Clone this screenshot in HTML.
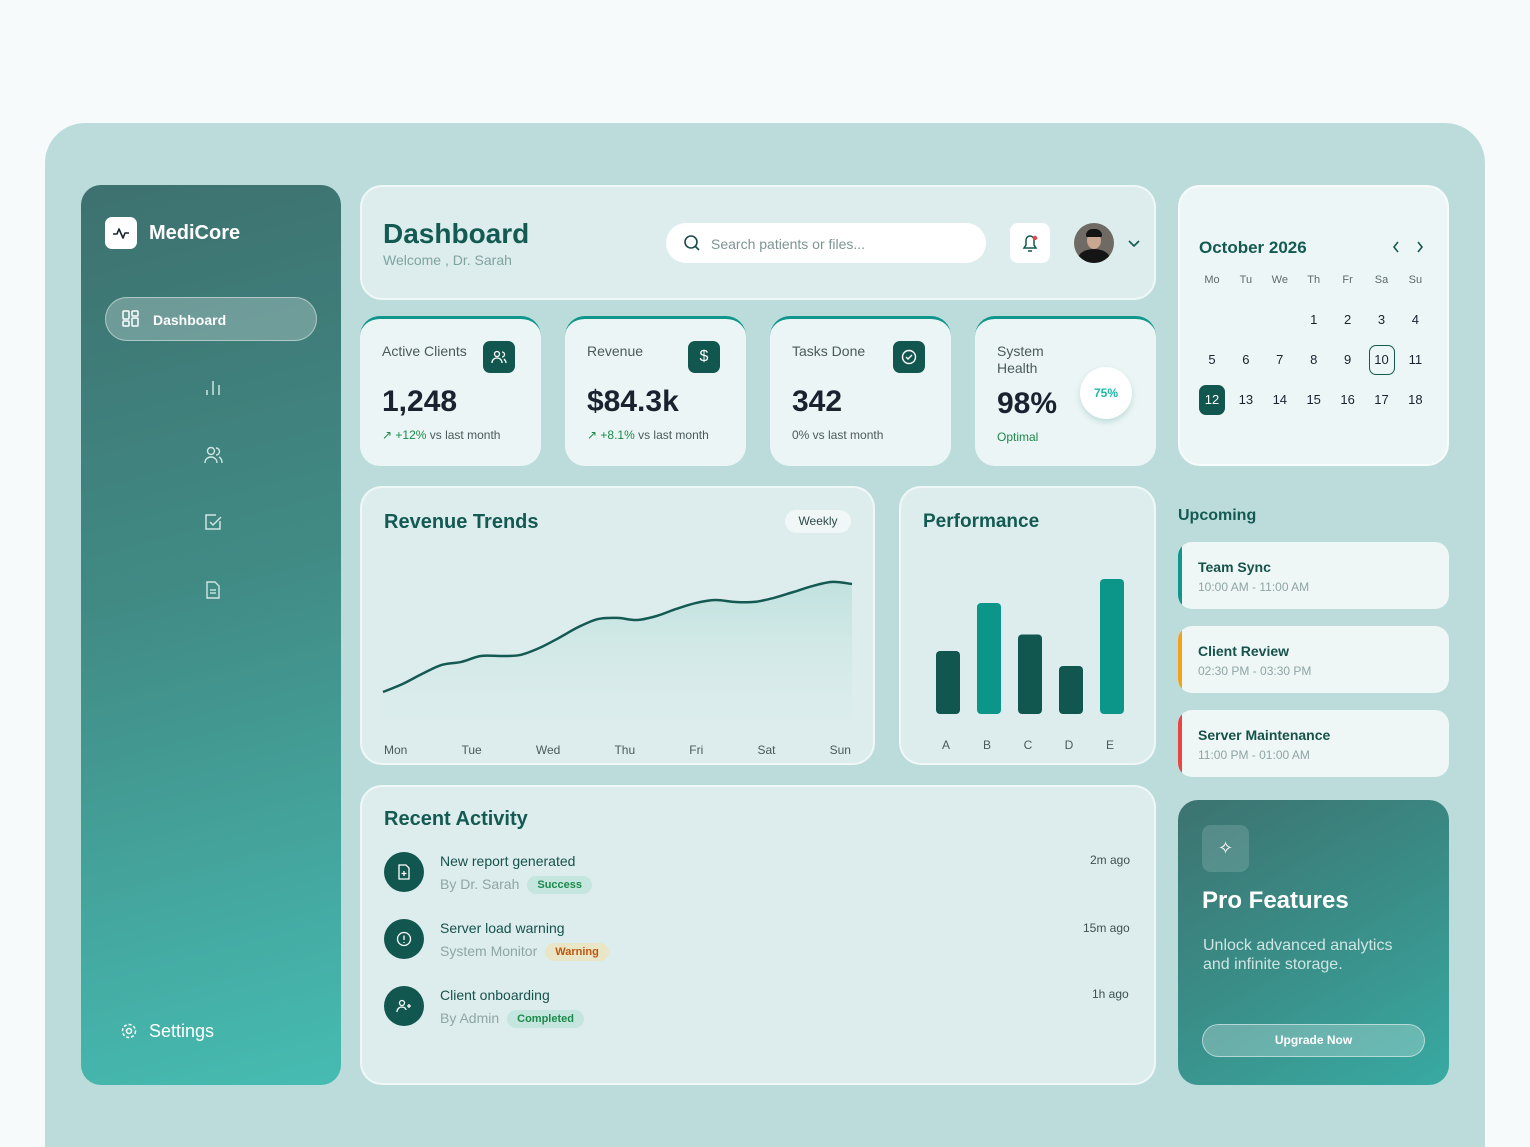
<!DOCTYPE html>
<html><head><meta charset="utf-8">
<style>
*{box-sizing:border-box;margin:0;padding:0}
html,body{width:1530px;height:1147px;overflow:hidden}
body{background:#f6fafb;font-family:"Liberation Sans",sans-serif;position:relative;color:#16524c}
.a{position:absolute}
.card{position:absolute;background:rgba(232,243,243,0.75);border:2px solid rgba(255,255,255,0.55);border-radius:22px}
.stat{position:absolute;top:316px;width:181px;height:150px;background:#ebf5f5;border-radius:20px;border-top:3px solid #10968a;overflow:hidden}
.stat .lbl{position:absolute;left:22px;top:24px;font-size:14px;color:#4a5a5a}
.stat .ico{position:absolute;right:26px;top:22px;width:32px;height:32px;border-radius:7px;background:#125650;color:#fff;display:flex;align-items:center;justify-content:center;font-size:16px}
.stat .val{position:absolute;left:22px;top:66px;font-size:30px;font-weight:bold;color:#1a2230}
.stat .sub{position:absolute;left:22px;top:109px;font-size:12px;color:#4a5a5a}
.g{color:#1c8a4a}
.ev{position:absolute;left:1178px;width:271px;height:67px;background:#eef6f6;border-radius:14px;overflow:hidden}
.ev .bar{position:absolute;left:0;top:0;bottom:0;width:4px}
.ev .t{position:absolute;left:20px;top:17px;font-weight:bold;font-size:14px;color:#16524c}
.ev .s{position:absolute;left:20px;top:38px;font-size:12px;color:#8fa6a4}
.act-ico{position:absolute;left:384px;width:40px;height:40px;border-radius:50%;background:#125650;display:flex;align-items:center;justify-content:center}
.act-t{position:absolute;left:440px;font-size:14px;color:#16524c}
.act-s{position:absolute;left:440px;font-size:14px;color:#8fa6a4}
.pill{display:inline-block;margin-left:8px;padding:3px 10px;border-radius:11px;font-size:11px;font-weight:bold;vertical-align:1px}
.time{position:absolute;font-size:12px;color:#3e5250}
.cal{position:absolute;font-size:13px;color:#1a2230;width:26px;text-align:center}
.calh{position:absolute;font-size:11px;color:#5d6b6b;width:26px;text-align:center;top:274px}
.nav{position:absolute;left:203px;width:20px;height:20px}
</style></head><body>
<div class="a" style="left:45px;top:123px;width:1440px;height:1024px;background:#bcdcdc;border-radius:40px 40px 0 0"></div>

<!-- sidebar -->
<div class="a" style="left:81px;top:185px;width:260px;height:900px;border-radius:20px;background:linear-gradient(165deg,#3d716f 0%,#418b85 45%,#46bcb2 100%)"></div>
<div class="a" style="left:105px;top:217px;width:32px;height:32px;background:#fff;border-radius:7px">
<svg width="32" height="32"><path d="M8 17h4l2-5 4 9 2-5h4" fill="none" stroke="#1a2230" stroke-width="1.6" stroke-linejoin="round"/></svg></div>
<div class="a" style="left:149px;top:222px;font-size:20px;font-weight:bold;color:#fff">MediCore</div>
<div class="a" style="left:105px;top:297px;width:212px;height:44px;border-radius:22px;background:rgba(255,255,255,0.25);border:1px solid rgba(255,255,255,0.45)">
<svg class="a" style="left:16px;top:12px" width="18" height="18"><g fill="none" stroke="#fff" stroke-width="1.5"><rect x="1" y="1" width="6" height="8" rx="1"/><rect x="10" y="1" width="6" height="5" rx="1"/><rect x="1" y="11" width="6" height="5" rx="1"/><rect x="10" y="8" width="6" height="8" rx="1"/></g></svg>
<span class="a" style="left:47px;top:14px;font-size:14px;font-weight:bold;color:#fff">Dashboard</span></div>
<svg class="nav" style="top:377px" width="20" height="20"><g stroke="#cfe6e3" stroke-width="1.5"><line x1="4" y1="13" x2="4" y2="18"/><line x1="10" y1="4" x2="10" y2="18"/><line x1="16" y1="8" x2="16" y2="18"/></g></svg>
<svg class="nav" style="top:445px" width="20" height="20"><g fill="none" stroke="#cfe6e3" stroke-width="1.4"><circle cx="8" cy="6" r="3.5"/><path d="M2 18c0-4 3-6 6-6s6 2 6 6"/><path d="M13 3a3.5 3.5 0 0 1 0 7M16 12c2 1 3 3 3 6"/></g></svg>
<svg class="nav" style="top:512px" width="20" height="20"><g fill="none" stroke="#cfe6e3" stroke-width="1.5"><path d="M17 9v8H3V3h10"/><path d="M7 10l3 3 8-8"/></g></svg>
<svg class="nav" style="top:580px" width="20" height="20"><g fill="none" stroke="#cfe6e3" stroke-width="1.4"><path d="M4 2h8l4 4v12H4z"/><line x1="7" y1="10" x2="13" y2="10"/><line x1="7" y1="13" x2="13" y2="13"/></g></svg>
<div class="a" style="left:120px;top:1021px;color:#fff;font-size:18px">
<svg width="18" height="18" style="vertical-align:-3px;margin-right:11px"><g fill="none" stroke="#fff" stroke-width="1.5"><circle cx="9" cy="9" r="2.5"/><circle cx="9" cy="9" r="6.5" stroke-dasharray="3 2"/></g></svg>Settings</div>

<!-- header -->
<div class="card" style="left:360px;top:185px;width:796px;height:115px"></div>
<div class="a" style="left:383px;top:218px;font-size:28px;font-weight:bold;color:#135a52">Dashboard</div>
<div class="a" style="left:383px;top:252px;font-size:14px;color:#7fa3a0">Welcome , Dr. Sarah</div>
<div class="a" style="left:666px;top:223px;width:320px;height:40px;background:#fff;border-radius:20px">
<svg class="a" style="left:17px;top:11px" width="18" height="18"><g fill="none" stroke="#1a4a46" stroke-width="1.6"><circle cx="8" cy="8" r="6"/><line x1="12.5" y1="12.5" x2="16" y2="16"/></g></svg>
<span class="a" style="left:45px;top:13px;font-size:14px;color:#7c9594">Search patients or files...</span></div>
<div class="a" style="left:1010px;top:223px;width:40px;height:40px;background:#fff;border-radius:8px">
<svg width="40" height="40"><path d="M14 25h12l-2-3v-5a4 4 0 0 0-8 0v5z M18 28h4" fill="none" stroke="#125650" stroke-width="1.5"/><circle cx="25" cy="15" r="2.2" fill="#e84545"/></svg></div>
<div class="a" style="left:1074px;top:223px;width:40px;height:40px;border-radius:50%;overflow:hidden;background:#6f6b64">
<div class="a" style="left:4px;top:26px;width:32px;height:20px;border-radius:50% 50% 0 0;background:#151515"></div>
<div class="a" style="left:13px;top:9px;width:14px;height:17px;border-radius:50%;background:#c9a690"></div>
<div class="a" style="left:12px;top:6px;width:16px;height:8px;border-radius:8px 8px 2px 2px;background:#141414"></div></div>
<div class="a" style="left:1128px;top:236px"><svg width="12" height="10"><path d="M1 2l5 5 5-5" fill="none" stroke="#125650" stroke-width="1.6"/></svg></div>

<!-- stats -->
<div class="stat" style="left:360px"><div class="lbl">Active Clients</div><div class="ico"><svg width="16" height="16"><g fill="none" stroke="#fff" stroke-width="1.3"><circle cx="6" cy="5" r="2.5"/><path d="M1 14c0-3 2-5 5-5s5 2 5 5M11 3a2.5 2.5 0 0 1 0 5M13 10c1 1 2 2 2 4"/></g></svg></div><div class="val">1,248</div><div class="sub"><span class="g">↗ +12%</span> vs last month</div></div>
<div class="stat" style="left:565px"><div class="lbl">Revenue</div><div class="ico">$</div><div class="val">$84.3k</div><div class="sub"><span class="g">↗ +8.1%</span> vs last month</div></div>
<div class="stat" style="left:770px"><div class="lbl">Tasks Done</div><div class="ico"><svg width="16" height="16"><g fill="none" stroke="#fff" stroke-width="1.4"><circle cx="8" cy="8" r="6.5"/><path d="M5 8l2 2 4-4"/></g></svg></div><div class="val">342</div><div class="sub">0% vs last month</div></div>
<div class="stat" style="left:975px"><div class="lbl" style="line-height:17px">System<br>Health</div><div class="val" style="top:68px">98%</div><div class="sub g" style="top:111px;color:#1c8a4a">Optimal</div>
<div class="a" style="left:105px;top:48px;width:52px;height:52px;border-radius:50%;background:#fff;box-shadow:0 3px 6px rgba(60,150,140,0.25);display:flex;align-items:center;justify-content:center;font-size:12px;font-weight:bold;color:#1cb8a6">75%</div></div>

<!-- revenue chart -->
<div class="card" style="left:360px;top:486px;width:515px;height:279px"></div>
<div class="a" style="left:384px;top:511px;font-size:20px;font-weight:bold;color:#135a52">Revenue Trends</div>
<div class="a" style="left:785px;top:510px;width:66px;height:23px;border-radius:12px;background:#f1f7f7;font-size:12px;color:#2d4a48;text-align:center;line-height:23px">Weekly</div>
<svg class="a" id="lineSvg" style="left:360px;top:486px" width="515" height="279">
<defs><linearGradient id="fillG" x1="0" y1="0" x2="0" y2="1"><stop offset="0" stop-color="#a9d9d3" stop-opacity="0.55"/><stop offset="1" stop-color="#cfe8e6" stop-opacity="0.1"/></linearGradient></defs></svg>
<div class="a" id="xLabels" style="left:384px;top:743px;width:467px;display:flex;justify-content:space-between;font-size:12px;color:#4a5a5a"></div>

<!-- performance -->
<div class="card" style="left:899px;top:486px;width:257px;height:279px"></div>
<div class="a" style="left:923px;top:511px;font-size:19px;font-weight:bold;color:#135a52">Performance</div>
<svg class="a" id="barSvg" style="left:899px;top:486px" width="257" height="279"></svg>

<!-- activity -->
<div class="card" style="left:360px;top:785px;width:796px;height:300px"></div>
<div class="a" style="left:384px;top:808px;font-size:20px;font-weight:bold;color:#135a52">Recent Activity</div>

<div class="act-ico" style="top:852px"><svg width="16" height="16"><g fill="none" stroke="#fff" stroke-width="1.3"><path d="M3 1h7l3 3v11H3z"/><path d="M8 7v5M5.5 9.5h5"/></g></svg></div>
<div class="act-t" style="top:853px">New report generated</div>
<div class="act-s" style="top:876px">By Dr. Sarah<span class="pill" style="background:#c4e6df;color:#1c8a4a">Success</span></div>
<div class="time" style="top:853px;left:1090px">2m ago</div>

<div class="act-ico" style="top:919px"><svg width="16" height="16"><g fill="none" stroke="#fff" stroke-width="1.3"><circle cx="8" cy="8" r="6.5"/><path d="M8 4.5v4.5M8 11v1"/></g></svg></div>
<div class="act-t" style="top:920px">Server load warning</div>
<div class="act-s" style="top:943px">System Monitor<span class="pill" style="background:#e9e6c8;color:#c0560e">Warning</span></div>
<div class="time" style="top:921px;left:1083px">15m ago</div>

<div class="act-ico" style="top:986px"><svg width="16" height="16"><g fill="none" stroke="#fff" stroke-width="1.3"><circle cx="6" cy="5" r="2.5"/><path d="M1 14c0-3 2-5 5-5s4 2 4 3M13 6v4M11 8h4"/></g></svg></div>
<div class="act-t" style="top:987px">Client onboarding</div>
<div class="act-s" style="top:1010px">By Admin<span class="pill" style="background:#c4e6df;color:#1c8a4a">Completed</span></div>
<div class="time" style="top:987px;left:1092px">1h ago</div>

<!-- calendar -->
<div class="card" style="left:1178px;top:185px;width:271px;height:281px;background:#edf6f6"></div>
<div class="a" style="left:1199px;top:238px;font-size:17px;font-weight:bold;color:#135a52">October 2026</div>
<div class="a" style="left:1391px;top:240px"><svg width="10" height="14"><path d="M7 2L3 7l4 5" fill="none" stroke="#135a52" stroke-width="1.6"/></svg></div>
<div class="a" style="left:1415px;top:240px"><svg width="10" height="14"><path d="M3 2l4 5-4 5" fill="none" stroke="#135a52" stroke-width="1.6"/></svg></div>
<div id="calGrid"></div>

<!-- upcoming -->
<div class="a" style="left:1178px;top:507px;font-size:16px;font-weight:bold;color:#135a52">Upcoming</div>
<div class="ev" style="top:542px"><div class="bar" style="background:#12968a"></div><div class="t">Team Sync</div><div class="s">10:00 AM - 11:00 AM</div></div>
<div class="ev" style="top:626px"><div class="bar" style="background:#f2a21a"></div><div class="t">Client Review</div><div class="s">02:30 PM - 03:30 PM</div></div>
<div class="ev" style="top:710px"><div class="bar" style="background:#e84545"></div><div class="t">Server Maintenance</div><div class="s">11:00 PM - 01:00 AM</div></div>

<!-- pro -->
<div class="a" style="left:1178px;top:800px;width:271px;height:285px;border-radius:20px;background:linear-gradient(150deg,#3c7370 0%,#3a908a 55%,#38aaa2 100%)">
<div class="a" style="left:24px;top:25px;width:47px;height:47px;border-radius:9px;background:rgba(255,255,255,0.14);color:#fff;text-align:center;line-height:47px;font-size:18px">✧</div>
<div class="a" style="left:24px;top:87px;font-size:24px;font-weight:bold;color:#fff">Pro Features</div>
<div class="a" style="left:25px;top:136px;font-size:16px;line-height:19px;color:#cfe5e2">Unlock advanced analytics<br>and infinite storage.</div>
<div class="a" style="left:24px;top:224px;width:223px;height:33px;border-radius:17px;background:rgba(255,255,255,0.25);border:1px solid rgba(255,255,255,0.5);color:#fff;font-size:12px;font-weight:bold;text-align:center;line-height:31px">Upgrade Now</div>
</div>

<script>
// Revenue line chart data
const days = ["Mon","Tue","Wed","Thu","Fri","Sat","Sun"];
const revenueValues = [17.5, 22.5, 28.8, 34.4, 36.3, 40, 40, 40.6, 45, 51.3, 58.1, 63.1, 63.8, 62.5, 65, 69.4, 73.1, 75, 73.8, 73.8, 76.3, 80, 83.8, 86.3, 85];
const revMax = 100;
// Performance data
const perfCategories = ["A","B","C","D","E"];
const perfValues = [42, 74, 53, 32, 90];
const perfColors = ["#125650","#0c968a","#125650","#125650","#0c968a"];
const perfMax = 100;

const NS = "http://www.w3.org/2000/svg";
(function(){
  const svg = document.getElementById("lineSvg");
  const x0 = 23, x1 = 492, yb = 234, yt = 74;
  const xs = i => x0 + (x1 - x0) * i / (revenueValues.length - 1);
  const ys = v => yb - (yb - yt) * v / revMax;
  const p = revenueValues.map((v, i) => [xs(i), ys(v)]);
  let d = "M" + p[0][0] + "," + p[0][1];
  for (let i = 0; i < p.length - 1; i++) {
    const a = p[Math.max(i - 1, 0)], b = p[i], c = p[i + 1], e = p[Math.min(i + 2, p.length - 1)];
    const c1 = [b[0] + (c[0] - a[0]) / 6, b[1] + (c[1] - a[1]) / 6];
    const c2 = [c[0] - (e[0] - b[0]) / 6, c[1] - (e[1] - b[1]) / 6];
    d += " C" + c1 + " " + c2 + " " + c;
  }
  const area = document.createElementNS(NS, "path");
  
  
  area.setAttribute("d", d + " L" + x1 + "," + yb + " L" + x0 + "," + yb + " Z");
  area.setAttribute("fill", "url(#fillG)");
  svg.appendChild(area);
  const line = document.createElementNS(NS, "path");
  
  
  line.setAttribute("d", d);
  line.setAttribute("fill", "none");
  line.setAttribute("stroke", "#145a53");
  line.setAttribute("stroke-width", "2.5");
  svg.appendChild(line);
  const xl = document.getElementById("xLabels");
  days.forEach(dname => {
    const s = document.createElement("span");
    
    
    s.textContent = dname;
    xl.appendChild(s);
  });
})();
(function(){
  const svg = document.getElementById("barSvg");
  const base = 228, hMax = 150, bw = 24, cx0 = 49, step = 41;
  perfValues.forEach((v, i) => {
    const h = hMax * v / perfMax;
    const cx = cx0 + step * i;
    const r = document.createElementNS(NS, "rect");
    
    
    r.setAttribute("x", cx - bw / 2);
    r.setAttribute("y", base - h);
    r.setAttribute("width", bw);
    r.setAttribute("height", h);
    r.setAttribute("rx", 4);
    r.setAttribute("fill", perfColors[i]);
    svg.appendChild(r);
    const t = document.createElementNS(NS, "text");
    
    
    t.setAttribute("x", cx - 2);
    t.setAttribute("y", 263);
    t.setAttribute("font-size", "12");
    t.setAttribute("fill", "#4a5a5a");
    t.setAttribute("text-anchor", "middle");
    t.textContent = perfCategories[i];
    svg.appendChild(t);
  });
})();
(function(){
  const g = document.getElementById("calGrid");
  const heads = ["Mo","Tu","We","Th","Fr","Sa","Su"];
  const colX = i => 1199 + i * 33.9;
  heads.forEach((h, i) => {
    const el = document.createElement("div");
    
    
    el.className = "calh"; el.style.left = colX(i) + "px"; el.textContent = h;
    g.appendChild(el);
  });
  for (let d = 1; d <= 18; d++) {
    const idx = d + 2, row = Math.floor(idx / 7), col = idx % 7;
    const el = document.createElement("div");
    
    
    el.className = "cal";
    el.style.left = colX(col) + "px";
    el.style.top = (305 + row * 40) + "px";
    el.style.height = "30px"; el.style.lineHeight = "30px";
    el.textContent = d;
    if (d === 10) { el.style.border = "1.5px solid #135a52"; el.style.borderRadius = "7px"; el.style.lineHeight = "27px"; }
    if (d === 12) { el.style.background = "#125650"; el.style.color = "#fff"; el.style.borderRadius = "7px"; }
    g.appendChild(el);
  }
})();
</script>
</body></html>
